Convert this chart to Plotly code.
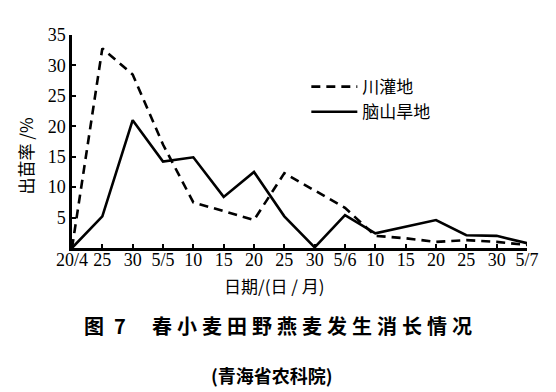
import plotly.graph_objects as go

# Data
date_labels = ["20/4", "25", "30", "5/5", "10", "15", "20", "25", "30", "5/6",
               "10", "15", "20", "25", "30", "5/7"]
irrigated = [0, 32.8, 28.5, 17.0, 7.5, 6.0, 4.6, 12.3, 9.4, 6.6, 2.0, 1.6, 1.0, 1.3, 1.0, 0.5]
mountain_dry = [0, 5.2, 21.0, 14.2, 14.9, 8.4, 12.5, 5.2, 0.1, 5.4, 2.4, 3.5, 4.6, 2.1, 2.0, 0.8]
y_ticks = [5, 10, 15, 20, 25, 30, 35]
series_names = ["川灌地", "脑山旱地"]

x_idx = list(range(len(date_labels)))

CJK = "Noto Sans CJK SC"
SERIF = "Liberation Serif"

fig = go.Figure()
fig.add_trace(go.Scatter(
    x=x_idx, y=irrigated, mode="lines", name=series_names[0],
    line=dict(color="black", width=2.6, dash="9px,6px"),
))
fig.add_trace(go.Scatter(
    x=x_idx, y=mountain_dry, mode="lines", name=series_names[1],
    line=dict(color="black", width=2.6),
))

# page body has an 8px default margin, so the figure is 8px smaller
fig.update_layout(
    width=548, height=384,
    margin=dict(l=64, r=29, t=27, b=144),
    paper_bgcolor="white", plot_bgcolor="white",
    showlegend=True,
    legend=dict(
        x=0.515, y=0.84, xanchor="left", yanchor="top",
        font=dict(family=CJK, size=17, color="black"),
        bgcolor="rgba(0,0,0,0)", tracegroupgap=0, itemwidth=46,
    ),
    xaxis=dict(
        range=[0, len(date_labels) - 1],
        tickmode="array", tickvals=x_idx, ticktext=date_labels,
        showgrid=False, zeroline=False,
        showline=True, linecolor="black", linewidth=2.5,
        ticks="inside", ticklen=4, tickwidth=1.5, tickcolor="black",
        tickfont=dict(family=SERIF, size=18, color="black"),
        tickangle=0, ticklabelstandoff=-6,
    ),
    yaxis=dict(
        range=[0, 35],
        tickmode="array", tickvals=y_ticks,
        showgrid=False, zeroline=False,
        showline=True, linecolor="black", linewidth=2.5,
        ticks="inside", ticklen=4, tickwidth=1.5, tickcolor="black",
        tickfont=dict(family=SERIF, size=18, color="black"),
    ),
)

annotations = [
    dict(text="日期/(日 / 月)", x=0.445, y=-0.175, xref="paper", yref="paper",
         showarrow=False, font=dict(family=CJK, size=17, color="black"),
         xanchor="center", yanchor="middle"),
    dict(text="出苗率 /%", x=-0.103, y=0.43, xref="paper", yref="paper",
         showarrow=False, textangle=-90,
         font=dict(family=CJK, size=17, color="black"),
         xanchor="center", yanchor="middle"),
    dict(text="<b>图\u20027</b>", x=0.022, y=-0.366, xref="paper", yref="paper",
         showarrow=False, font=dict(family=CJK, size=20, color="black"),
         xanchor="left", yanchor="middle"),
    dict(text="<b>" + "\u2005".join("春小麦田野燕麦发生消长情况") + "</b>",
         x=0.172, y=-0.366, xref="paper", yref="paper",
         showarrow=False, font=dict(family=CJK, size=20, color="black"),
         xanchor="left", yanchor="middle"),
    dict(text="<b>(青海省农科院)</b>", x=0.44, y=-0.596, xref="paper", yref="paper",
         showarrow=False, font=dict(family=CJK, size=18, color="black"),
         xanchor="center", yanchor="middle"),
]
fig.update_layout(annotations=annotations)

fig.write_html("out.html")
